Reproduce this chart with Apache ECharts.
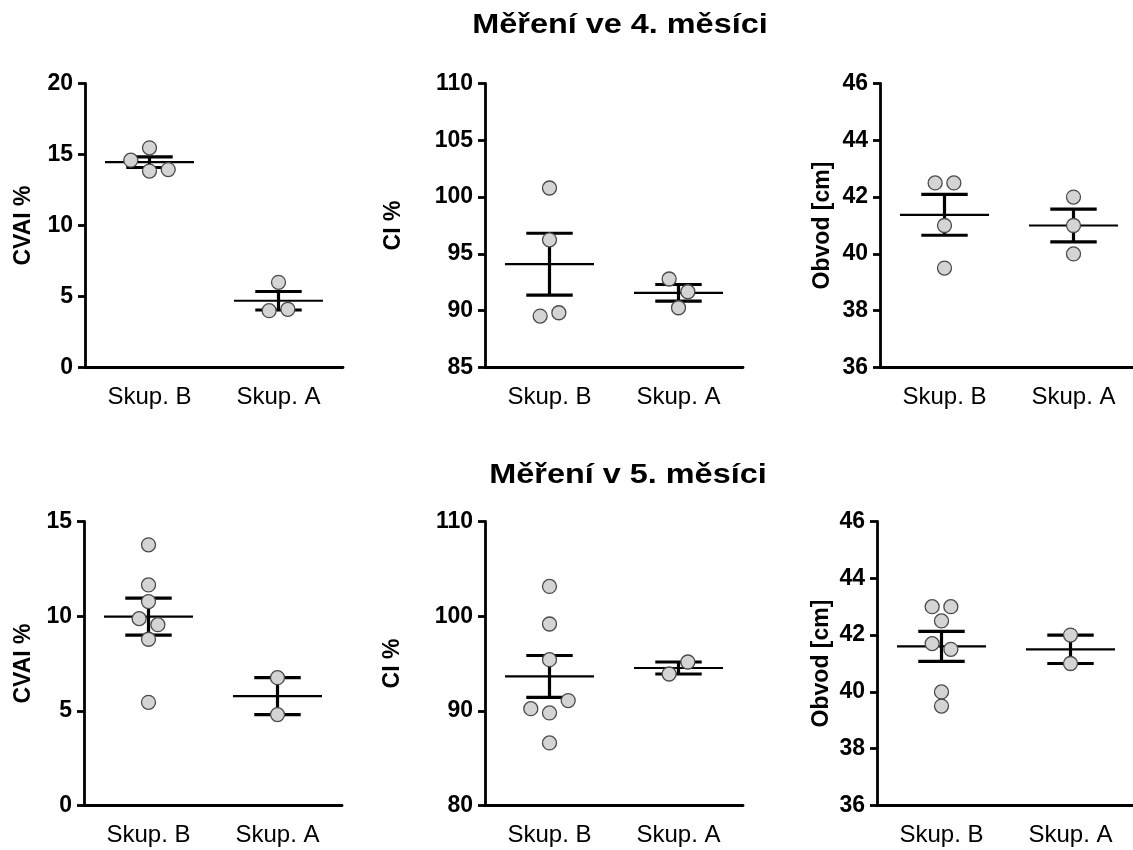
<!DOCTYPE html>
<html>
<head>
<meta charset="utf-8">
<title>Měření ve 4. a 5. měsíci</title>
<script src="https://cdn.jsdelivr.net/npm/echarts@6/dist/echarts.min.js"></script>
<style>
  html, body { margin: 0; padding: 0; background: #fff; }
  #chart { width: 1133px; height: 850px; }
</style>
</head>
<body>
<div id="chart"></div>
<script>
// categories and row titles
const groups = ['Skup. B', 'Skup. A'];
const rowTitles = ['Měření ve 4. měsíci', 'Měření v 5. měsíci'];

// 4. month measurements (read left to right)
const cvai4B = [14.6, 15.47, 13.83, 13.94];
const cvai4A = [6.0, 4.0, 4.1];
const ci4B = [100.8, 96.24, 89.53, 89.82];
const ci4A = [92.79, 91.67, 90.26];
const obvod4B = [42.5, 42.5, 41.0, 39.5];
const obvod4A = [42.0, 41.0, 40.0];

// 5. month measurements
const cvai5B = [13.77, 11.65, 10.77, 9.87, 9.55, 8.78, 5.45];
const cvai5A = [6.75, 4.8];
const ci5B = [103.14, 99.17, 95.4, 90.23, 89.78, 91.08, 86.61];
const ci5A = [93.89, 95.16];
const obvod5B = [43.0, 43.0, 42.5, 41.7, 41.5, 40.0, 39.5];
const obvod5A = [42.0, 41.0];

// y axis ranges: [min, max, interval]
const cviRange4 = [0, 20, 5];
const ciRange4 = [85, 110, 5];
const obvodRange = [36, 46, 2];
const cviRange5 = [0, 15, 5];
const ciRange5 = [80, 110, 10];

const PLOT_H = 284;
const PLOT_W = 258;
const DOT = 14;
const SPREAD = 18.7;

const panels = [
  { name: 'CVAI %', b: cvai4B, a: cvai4A, range: cviRange4, left: 85, top: 83.5, gap: 50 },
  { name: 'CI %', b: ci4B, a: ci4A, range: ciRange4, left: 485, top: 83.5, gap: 80 },
  { name: 'Obvod [cm]', b: obvod4B, a: obvod4A, range: obvodRange, left: 880, top: 83.5, gap: 46 },
  { name: 'CVAI %', b: cvai5B, a: cvai5A, range: cviRange5, left: 84, top: 521.5, gap: 49 },
  { name: 'CI %', b: ci5B, a: ci5A, range: ciRange5, left: 485, top: 521.5, gap: 81 },
  { name: 'Obvod [cm]', b: obvod5B, a: obvod5A, range: obvodRange, left: 877, top: 521.5, gap: 44 }
];

function meanSem(vals) {
  const n = vals.length;
  const m = vals.reduce((s, v) => s + v, 0) / n;
  const sd = Math.sqrt(vals.reduce((s, v) => s + (v - m) * (v - m), 0) / (n - 1));
  return [m, sd / Math.sqrt(n)];
}

// simple beeswarm: points that would overlap vertically share a row and are spread symmetrically
function swarm(vals, pxPerUnit) {
  const order = vals.map((v, i) => i).sort((p, q) => vals[p] - vals[q]);
  const off = vals.map(() => 0);
  let row = [];
  const flush = () => {
    const r = row.slice().sort((p, q) => p - q);
    r.forEach((i, k) => { off[i] = (k - (r.length - 1) / 2) * SPREAD; });
  };
  order.forEach(i => {
    if (row.length && (vals[i] - vals[row[0]]) * pxPerUnit > 13.5) {
      flush();
      row = [];
    }
    row.push(i);
  });
  flush();
  return off;
}

function renderBars(params, api) {
  const x = api.value(0), m = api.value(1), s = api.value(2);
  const c = api.coord([x, m]);
  const hi = api.coord([x, m + s]);
  const lo = api.coord([x, m - s]);
  const band = api.size([1, 0])[0];
  const hw = band * 0.345, cw = band * 0.18;
  const thick = { stroke: '#000', lineWidth: 3.2 };
  return {
    type: 'group',
    children: [
      { type: 'line', shape: { x1: c[0], y1: hi[1], x2: c[0], y2: lo[1] }, style: thick },
      { type: 'line', shape: { x1: c[0] - cw, y1: hi[1], x2: c[0] + cw, y2: hi[1] }, style: thick },
      { type: 'line', shape: { x1: c[0] - cw, y1: lo[1], x2: c[0] + cw, y2: lo[1] }, style: thick },
      { type: 'line', shape: { x1: c[0] - hw, y1: c[1], x2: c[0] + hw, y2: c[1] }, style: { stroke: '#000', lineWidth: 2.2 } }
    ]
  };
}

const axisStyle = { color: '#000', width: 2.8 };
const grid = [], xAxis = [], yAxis = [], series = [];

panels.forEach((p, i) => {
  const [min, max, step] = p.range;
  const ppu = PLOT_H / (max - min);
  grid.push({ left: p.left, top: p.top, width: PLOT_W, height: PLOT_H, outerBoundsMode: 'none' });
  xAxis.push({
    gridIndex: i,
    type: 'category',
    data: groups,
    axisLine: { lineStyle: axisStyle },
    axisTick: { alignWithLabel: true, length: 8, lineStyle: axisStyle },
    axisLabel: { color: '#000', fontSize: 24, fontFamily: 'Liberation Sans', margin: 18 },
    splitLine: { show: false }
  });
  yAxis.push({
    gridIndex: i,
    type: 'value',
    min: min,
    max: max,
    interval: step,
    name: p.name,
    nameLocation: 'middle',
    nameRotate: 90,
    nameGap: p.gap,
    nameTextStyle: { color: '#000', fontSize: 23, fontWeight: 'bold', fontFamily: 'Liberation Sans' },
    axisLine: { show: true, lineStyle: axisStyle },
    axisTick: { show: true, length: 7, lineStyle: axisStyle },
    axisLabel: { color: '#000', fontSize: 23, fontWeight: 'bold', fontFamily: 'Liberation Sans', margin: 12 },
    splitLine: { show: false }
  });

  const mb = meanSem(p.b), ma = meanSem(p.a);
  series.push({
    type: 'custom',
    xAxisIndex: i,
    yAxisIndex: i,
    z: 2,
    silent: true,
    encode: { x: 0, y: 1 },
    renderItem: renderBars,
    data: [[0, mb[0], mb[1]], [1, ma[0], ma[1]]]
  });

  const offB = swarm(p.b, ppu), offA = swarm(p.a, ppu);
  series.push({
    type: 'scatter',
    xAxisIndex: i,
    yAxisIndex: i,
    z: 3,
    silent: true,
    symbol: 'circle',
    symbolSize: DOT,
    itemStyle: { color: '#d4d4d4', borderColor: '#4a4a4a', borderWidth: 1.3, opacity: 1 },
    data: p.b.map((v, k) => ({ value: [0, v], symbolOffset: [offB[k], 0] }))
      .concat(p.a.map((v, k) => ({ value: [1, v], symbolOffset: [offA[k], 0] })))
  });
});

const titlePos = [[620, 26], [628, 476]];
const graphic = rowTitles.map((t, r) => ({
  type: 'text',
  x: titlePos[r][0],
  y: titlePos[r][1],
  scaleX: 1.2,
  style: {
    text: t,
    fill: '#000',
    fontSize: 27,
    fontWeight: 'bold',
    fontFamily: 'Liberation Sans',
    align: 'center',
    verticalAlign: 'middle',
    textAlign: 'center',
    textVerticalAlign: 'middle'
  }
}));

const chart = echarts.init(document.getElementById('chart'));
chart.setOption({
  backgroundColor: '#fff',
  animation: false,
  grid: grid,
  xAxis: xAxis,
  yAxis: yAxis,
  series: series,
  graphic: graphic
});
window.addEventListener('resize', function () {
  chart.resize();
});
</script>
</body>
</html>
